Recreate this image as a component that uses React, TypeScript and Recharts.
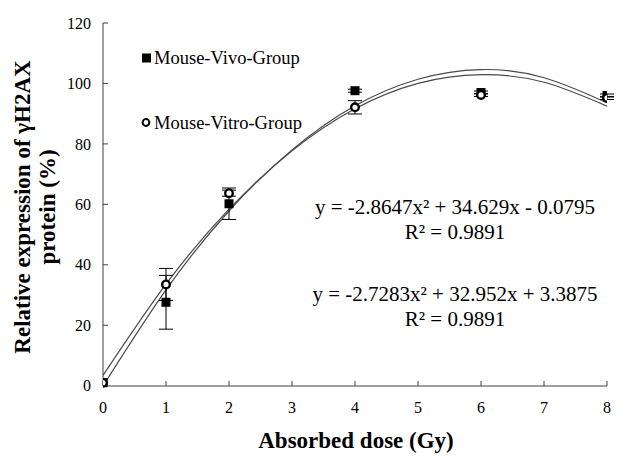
import React from "react"
import { ComposedChart, Line, Scatter, ErrorBar, XAxis, YAxis } from "recharts"

// measured points (dose in Gy, % relative expression)
const doses = [0, 1, 2, 4, 6, 8]
const vivoMeans = [1.0, 27.6, 60.2, 97.6, 97.0, 96.0]
const vivoErrors = [0, 8.9, 5.2, 0.5, 0.5, 0.5]
const vitroMeans = [1.0, 33.5, 63.7, 92.1, 96.2, 95.2]
const vitroErrors = [0, 5.3, 1.0, 2.2, 0.5, 0.5]

// trend lines
const fitDoses = [0, 1, 2, 3, 4, 5, 6, 7, 8]
const vivoFit = [-0.1, 31.7, 57.8, 78.0, 92.6, 101.4, 104.6, 101.9, 93.6]
const vitroFit = [3.4, 33.6, 58.4, 77.7, 91.6, 100.0, 102.9, 100.4, 92.5]

const xTicks = [0, 1, 2, 3, 4, 5, 6, 7, 8]
const yTicks = [0, 20, 40, 60, 80, 100, 120]

const vivoLabel = "Mouse-Vivo-Group"
const vitroLabel = "Mouse-Vitro-Group"
const vivoEq = "y = -2.8647x² + 34.629x - 0.0795"
const vitroEq = "y = -2.7283x² + 32.952x + 3.3875"
const r2Text = "R² = 0.9891"

const FONT = "'Liberation Serif', 'Times New Roman', serif"

const vivoData = doses.map((x, i) => ({ x, y: vivoMeans[i], err: vivoErrors[i] }))
const vitroData = doses.map((x, i) => ({ x, y: vitroMeans[i], err: vitroErrors[i] }))
const fitData = fitDoses.map((x, i) => ({ x, a: vivoFit[i], b: vitroFit[i] }))

const SquareMark = (p: any) => (
  <rect x={p.cx - 4.5} y={p.cy - 4.5} width={9} height={9} fill="#000" />
)

const RingMark = (p: any) => (
  <circle cx={p.cx} cy={p.cy} r={3.8} fill="#fff" stroke="#000" strokeWidth={2.4} />
)

export default function App() {
  const tickStyle = { fontSize: 16, fill: "#000", fontFamily: FONT }
  return (
    <div style={{ position: "absolute", left: 0, top: 0, width: 626, height: 466, background: "#fff", fontFamily: FONT }}>
      <ComposedChart width={626} height={466} margin={{ top: 23, right: 19, bottom: 50, left: 0 }}>
        <XAxis
          type="number"
          dataKey="x"
          domain={[0, 8]}
          ticks={xTicks}
          allowDataOverflow
          height={30}
          tick={tickStyle}
          tickSize={-5}
          tickMargin={21}
          stroke="#404040"
        />
        <YAxis
          type="number"
          domain={[0, 120]}
          ticks={yTicks}
          width={103}
          tick={tickStyle}
          tickSize={-5}
          tickMargin={17}
          stroke="#404040"
        />
        <Line data={fitData} dataKey="a" type="natural" stroke="#4a4a4a" strokeWidth={1.2} dot={false} isAnimationActive={false} />
        <Line data={fitData} dataKey="b" type="natural" stroke="#4a4a4a" strokeWidth={1.2} dot={false} isAnimationActive={false} />
        <Scatter data={vivoData} dataKey="y" shape={SquareMark} isAnimationActive={false}>
          <ErrorBar dataKey="err" direction="y" width={7} stroke="#000" strokeWidth={1} />
        </Scatter>
        <Scatter data={vitroData} dataKey="y" shape={RingMark} isAnimationActive={false}>
          <ErrorBar dataKey="err" direction="y" width={7} stroke="#000" strokeWidth={1} />
        </Scatter>
      </ComposedChart>

      <svg width={626} height={466} style={{ position: "absolute", left: 0, top: 0, pointerEvents: "none" }} fontFamily={FONT}>
        {/* legend */}
        <rect x={142} y={53.5} width={9} height={9} fill="#000" />
        <text x={154} y={64} fontSize={18.5} fill="#000">{vivoLabel}</text>
        <circle cx={146} cy={122.5} r={3.4} fill="#fff" stroke="#000" strokeWidth={2} />
        <text x={154} y={129} fontSize={18.5} fill="#000">{vitroLabel}</text>

        {/* trend line equations */}
        <text x={455} y={214} fontSize={21} textAnchor="middle" fill="#000">{vivoEq}</text>
        <text x={455} y={239} fontSize={21} textAnchor="middle" fill="#000">{r2Text}</text>
        <text x={455} y={301} fontSize={21} textAnchor="middle" fill="#000">{vitroEq}</text>
        <text x={455} y={326} fontSize={21} textAnchor="middle" fill="#000">{r2Text}</text>

        {/* axis titles */}
        <text x={356} y={448} fontSize={23} fontWeight="bold" textAnchor="middle" fill="#000">Absorbed dose (Gy)</text>
        <text transform="translate(22,207) rotate(-90)" fontSize={23} fontWeight="bold" textAnchor="middle" dominantBaseline="central" fill="#000">
          Relative expression of γH2AX
        </text>
        <text transform="translate(47,207) rotate(-90)" fontSize={23} fontWeight="bold" textAnchor="middle" dominantBaseline="central" fill="#000">
          protein (%)
        </text>
      </svg>
    </div>
  )
}
